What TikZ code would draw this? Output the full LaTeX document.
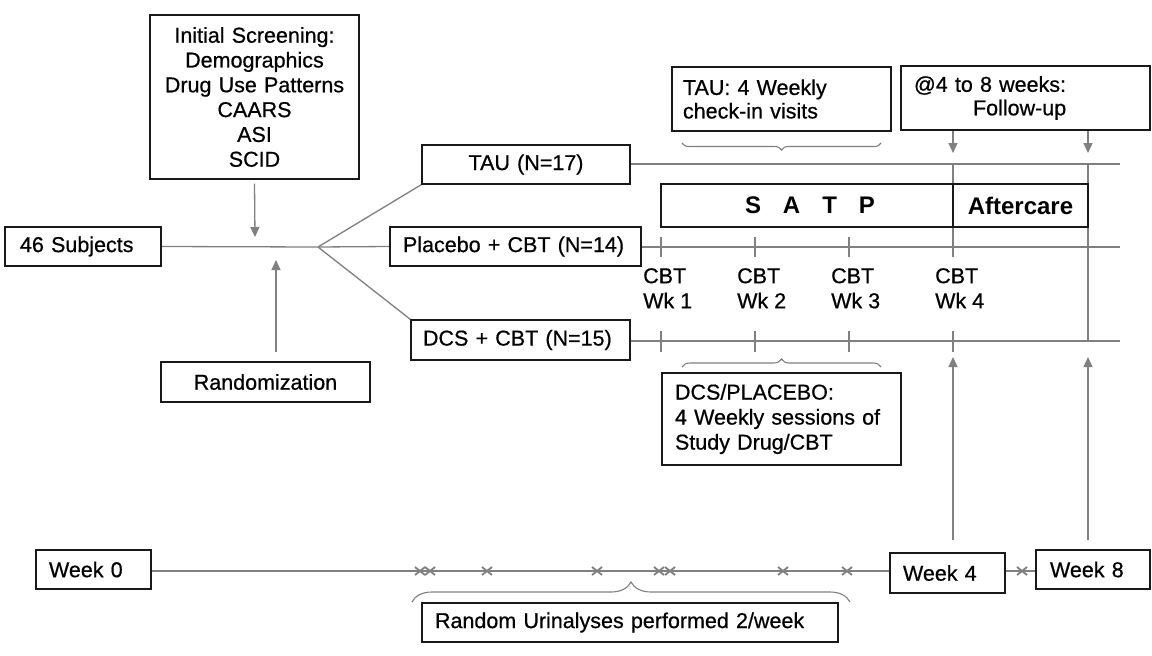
\documentclass[tikz,border=0pt]{standalone}
\usepackage{fontspec}
\setmainfont{Liberation Sans}
\newfontfamily\rf{Liberation Sans}[FakeBold=0.6]
\usetikzlibrary{arrows.meta,decorations.pathreplacing}
\definecolor{ln}{RGB}{128,128,128}
\definecolor{bd}{RGB}{25,25,25}
\pgfdeclarelayer{bb}
\pgfdeclarelayer{bg}
\pgfsetlayers{bb,bg,main}
\begin{document}
\begin{tikzpicture}[x=1pt,y=-1pt,
  box/.style={draw=bd, line width=1.3pt, fill=white, inner ysep=0pt, minimum height=39pt,
    font=\rf\fontsize{21.5}{25}\selectfont, text=black},
  bigb/.style={box, minimum height=43pt, font=\fontsize{24}{28}\selectfont\bfseries},
  lbl/.style={inner sep=0pt, align=left, font=\rf\fontsize{21.5}{25}\selectfont},
  conn/.style={draw=ln, line width=1.3pt},
  arr/.style={conn, -{Triangle[width=9pt,length=10pt]}},
  xmk/.style={draw=ln, line width=1.8pt},
  brc/.style={draw=ln, line width=1.1pt, decorate, decoration={brace, amplitude=#1}}
]
\begin{pgfonlayer}{bb}
\fill[white] (0,0) rectangle (1152,656);
\end{pgfonlayer}
\useasboundingbox (0,0) rectangle (1152,656);

% boxes
\node[box, text width=199pt, inner xsep=5pt, align=center, minimum height=164pt,
  font=\rf\fontsize{21.5}{24.8}\selectfont] (scr) at (254.5,97)
  {Initial Screening:\\Demographics\\Drug Use Patterns\\CAARS\\ASI\\SCID};
\node[box, text width=126pt, inner xsep=15pt, align=left] (subj) at (83,246.5) {46 Subjects};
\node[box, text width=199pt, inner xsep=5pt, align=center, minimum height=40pt] (rand) at (265.5,382) {Randomization};
\node[box, text width=198pt, inner xsep=5pt, align=center] (tau) at (526,164.5) {TAU (N=17)};
\node[box, text width=225pt, inner xsep=13pt, align=left] (plac) at (515.5,246.5) {Placebo + CBT (N=14)};
\node[box, text width=195pt, inner xsep=12pt, align=left, minimum height=40pt] (dcs) at (520.5,340) {DCS + CBT (N=15)};
\node[bigb, text width=282pt, inner xsep=5pt, align=center] (satp) at (807,205.5)
  {\hspace{6pt}S\hspace{22pt}A\hspace{22pt}T\hspace{22pt}P};
\node[bigb, text width=125pt, inner xsep=5pt, align=center] (aft) at (1020.5,205.5) {Aftercare};
\node[box, text width=197pt, inner xsep=11pt, align=left, minimum height=64pt,
  font=\rf\fontsize{21.5}{23.5}\selectfont] (tauv) at (781.5,99) {TAU: 4 Weekly\\check-in visits};
\node[box, text width=223pt, inner xsep=13pt, align=left, minimum height=64pt,
  font=\rf\fontsize{21.5}{23.5}\selectfont] (fol) at (1025.5,98) {@4 to 8 weeks:\\\hspace*{59pt}Follow-up};
\node[box, text width=213pt, inner xsep=13pt, align=left, minimum height=92pt] (dcsp) at (781.5,419)
  {DCS/PLACEBO:\\4 Weekly sessions of\\Study Drug/CBT};
\node[box, text width=89pt, inner xsep=13pt, align=left] (wk0) at (93.5,569.5) {Week 0};
\node[box, text width=89pt, inner xsep=13pt, align=left, minimum height=40pt] (wk4) at (947.5,573) {Week 4};
\node[box, text width=86pt, inner xsep=14pt, align=left] (wk8) at (1093,569.5) {Week 8};
\node[box, text width=390pt, inner xsep=13pt, align=left] (uri) at (630,622.5) {Random Urinalyses performed 2/week};

% week labels
\node[lbl, anchor=north west] (c1) at (643,268) {CBT\\Wk 1};
\node[lbl, anchor=north west] (c2) at (737,268) {CBT\\Wk 2};
\node[lbl, anchor=north west] (c3) at (831,268) {CBT\\Wk 3};
\node[lbl, anchor=north west] (c4) at (935,268) {CBT\\Wk 4};

% coordinates
\coordinate (br) at (318,247);
\coordinate (a1) at (255,237);
\coordinate (a2s) at (276,352);
\coordinate (a2) at (276,260);
\coordinate (e1) at (1120,164);
\coordinate (e2) at (1120,247);
\coordinate (e3) at (1120,341);
\coordinate (v4t) at (953,164);
\coordinate (v4b) at (953,257);
\coordinate (v8t) at (1088,164);
\coordinate (v8b) at (1088,342);
\coordinate (f4) at (953,153);
\coordinate (f8) at (1088,153);
\coordinate (w4s) at (953,540);
\coordinate (w4t) at (953,357);
\coordinate (w8s) at (1088,540);
\coordinate (w8t) at (1088,357);

\begin{pgfonlayer}{bg}
\draw[conn] (subj.east) -- (br) -- (plac.west);
\draw[conn] (br) -- (tau.south west);
\draw[conn] (br) -- (dcs.north west);
\draw[arr] ([yshift=-4pt]scr.south) -- (a1);
\draw[arr] (a2s) -- (a2);
\draw[conn] (tau.east |- e1) -- (e1);
\draw[conn] (plac.east |- e2) -- (e2);
\draw[conn] (dcs.east |- e3) -- (e3);
\foreach \x in {661,755,849} {
  \draw[conn] (\x,237) -- (\x,257);
  \draw[conn] (\x,331) -- (\x,352);
}
\draw[conn] (953,331) -- (953,352);
\draw[conn] (v4t) -- (v4b);
\draw[conn] (v8t) -- (v8b);
\draw[arr] (fol.south -| f4) -- (f4);
\draw[arr] (fol.south -| f8) -- (f8);
\draw[arr] (w4s) -- (w4t);
\draw[arr] (w8s) -- (w8t);
\draw[conn] (wk0.east |- 0,571) -- (wk4.west |- 0,571);
\draw[conn] (wk4.east |- 0,571) -- (wk8.west |- 0,571);
\foreach \x in {420,430,487,597,659,670,783,847,1022} {
  \draw[xmk] (\x-5,567) -- (\x+5,575) (\x-5,575) -- (\x+5,567);
}
\draw[brc=7pt] (881,143) -- (682,143);
\draw[brc=8pt] (682,367) -- (881,367);
\draw[brc=20pt] (412,602) -- (850,602);
\end{pgfonlayer}
\end{tikzpicture}
\end{document}
